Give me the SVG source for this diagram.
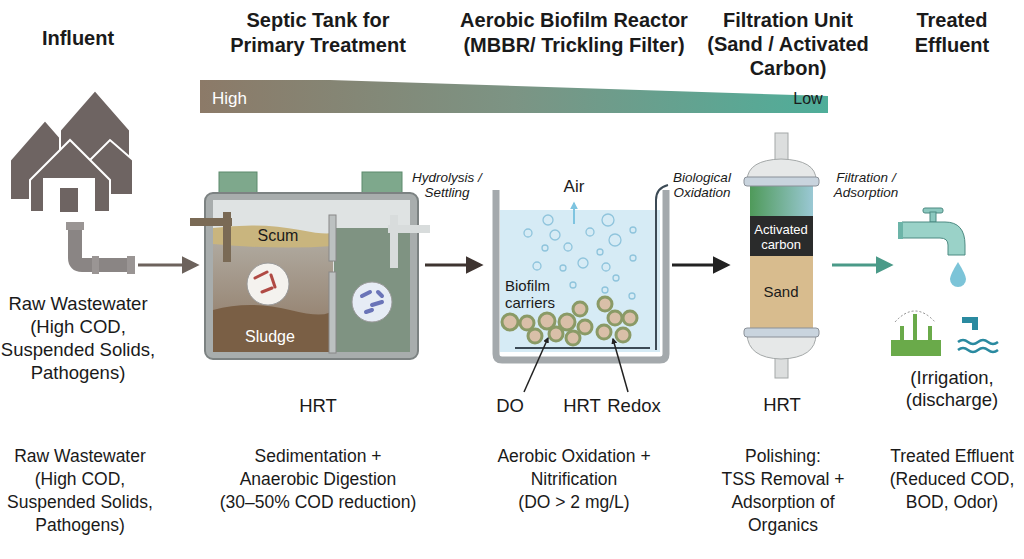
<svg xmlns="http://www.w3.org/2000/svg" width="1024" height="559" viewBox="0 0 1024 559">
<defs>
<style>
text{font-family:"Liberation Sans",Arial,sans-serif;fill:#1a1a1a;text-anchor:middle}
.h{font-size:20px;font-weight:bold}
.b{font-size:17.5px}
.l{font-size:18.5px}
.i{font-size:13.5px;font-style:italic}
.bub{fill:none;stroke:#8fc4dc;stroke-width:1.3}
.car{fill:#d9bfa8;stroke:#8a9a66;stroke-width:3}
</style>
<linearGradient id="wedge" x1="0" x2="1" y1="0" y2="0"><stop offset="0" stop-color="#8c7a68"/><stop offset="0.5" stop-color="#7c9484"/><stop offset="1" stop-color="#4fae9a"/></linearGradient>
<linearGradient id="liq" x1="0" x2="0" y1="0" y2="1"><stop offset="0" stop-color="#b0aaa0"/><stop offset="1" stop-color="#8c7560"/></linearGradient>
<linearGradient id="grn" x1="0" x2="1"><stop offset="0" stop-color="#4f9a5a"/><stop offset="1" stop-color="#9ac8d4"/></linearGradient>
<marker id="ah" viewBox="0 0 10 10" refX="8" refY="5" markerWidth="4" markerHeight="4" orient="auto"><path d="M0,0L10,5L0,10z" fill="context-stroke"/></marker>
<marker id="ab" viewBox="0 0 10 10" refX="8" refY="5" markerWidth="6" markerHeight="6" orient="auto"><path d="M0,0L10,5L0,10z" fill="context-stroke"/></marker>
</defs>
<rect width="1024" height="559" fill="#fff"/>
<g id="headers">
<text class="h" x="78" y="45">Influent</text>
<text class="h" x="318" y="27">Septic Tank for</text><text class="h" x="318" y="52">Primary Treatment</text>
<text class="h" x="574" y="27">Aerobic Biofilm Reactor</text><text class="h" x="574" y="52">(MBBR/ Trickling Filter)</text>
<text class="h" x="788" y="27">Filtration Unit</text><text class="h" x="788" y="51">(Sand / Activated</text><text class="h" x="788" y="75">Carbon)</text>
<text class="h" x="952" y="27">Treated</text><text class="h" x="952" y="52">Effluent</text>
</g>
<g id="gradient">
<polygon points="200,80 330,80 828,96 828,113 200,113" fill="url(#wedge)"/>
<text x="212" y="104" style="font-size:17px;fill:#fff;text-anchor:start">High</text>
<text x="808" y="104" style="font-size:16px">Low</text>
</g>
<g id="influent">
<g fill="#6e6462" stroke="#fff" stroke-width="2">
<path d="M10,160 L45,120 L80,160 V200 H10z"/>
<path d="M60,130 L95,90 L130,130 V180 H60z"/>
<path d="M90,160 L110,140 L133,160 V195 H90z"/>
<path d="M30,180 L70,140 L110,180 V212 H30z"/>
</g>
<rect x="43" y="178" width="52" height="34" fill="#fff"/>
<rect x="60" y="188" width="18" height="24" fill="#6e6462"/>
<path d="M75,225 V258 Q75,265 82,265 H135" fill="none" stroke="#8a8584" stroke-width="14"/>
<rect x="66" y="222" width="18" height="8" fill="#9a9594"/>
<rect x="92" y="256" width="7" height="18" fill="#9a9594"/>
<rect x="127" y="256" width="8" height="18" fill="#9a9594"/>
<text class="l" x="78" y="310">Raw Wastewater</text><text class="l" x="78" y="333">(High COD,</text><text class="l" x="78" y="356">Suspended Solids,</text><text class="l" x="78" y="379">Pathogens)</text>
</g>
<g id="septic">
<rect x="219" y="172" width="38" height="22" fill="#7ea88c" stroke="#5d8a6c"/>
<rect x="362" y="172" width="40" height="22" fill="#7ea88c" stroke="#5d8a6c"/>
<rect x="205" y="193" width="213" height="166" rx="8" fill="#a8adad" stroke="#7c8282" stroke-width="2"/>
<rect x="213" y="200" width="197" height="152" fill="#dfe3e3"/>
<rect x="213" y="240" width="120" height="112" fill="url(#liq)"/>
<path d="M213,310 Q250,300 290,310 T333,308 V352 H213z" fill="#7a5f45"/>
<path d="M213,228 Q260,222 300,230 T333,228 V246 Q280,250 213,244z" fill="#c9b57e"/>
<rect x="334" y="228" width="76" height="124" fill="#7f9382"/>
<rect x="329" y="215" width="7" height="46" fill="#bcc1c1" stroke="#888"/>
<rect x="329" y="272" width="7" height="81" fill="#bcc1c1" stroke="#888"/>
<path d="M190,222 H232 M227,212 V262" fill="none" stroke="#7a6a55" stroke-width="8"/>
<path d="M388,229 H430 M394,215 V268" fill="none" stroke="#d8dcdc" stroke-width="8"/>
<circle cx="268" cy="284" r="21" fill="#f4f2ee" stroke="#999"/>
<path d="M255,278l12,-6M262,292l10,-4M271,275l4,12" stroke="#b04a44" stroke-width="3" stroke-linecap="round"/>
<circle cx="372" cy="302" r="20" fill="#e6ecf5" stroke="#999"/>
<path d="M362,296l8,-4M372,305l10,-3M366,312l6,-2M378,292l4,4" stroke="#6a74b8" stroke-width="4" stroke-linecap="round"/>
<text x="278" y="241" style="font-size:16px">Scum</text>
<text x="270" y="342" style="font-size:16px;fill:#fff">Sludge</text>
<text class="l" x="318" y="412">HRT</text>
<text class="i" x="447" y="182">Hydrolysis /</text><text class="i" x="447" y="197">Settling</text>
</g>
<g id="reactor">
<rect x="500" y="210" width="160" height="142" fill="#d6ebf5"/>
<path d="M496,190 V354 Q496,360 502,360 H660 Q666,360 666,354 V190" fill="none" stroke="#a4a9ac" stroke-width="7"/>
<path d="M656,350 V200 Q656,188 668,185" fill="none" stroke="#3c4a55" stroke-width="2"/>
<text x="574" y="192" style="font-size:17px">Air</text>
<line x1="574" y1="224" x2="574" y2="203" stroke="#7ec4e0" stroke-width="2" marker-end="url(#ah)"/>
<g class="bub">
<circle cx="548" cy="220" r="5"/><circle cx="608" cy="220" r="6"/><circle cx="528" cy="233" r="4"/><circle cx="555" cy="235" r="5"/><circle cx="590" cy="232" r="4"/><circle cx="615" cy="240" r="6"/><circle cx="568" cy="247" r="4"/><circle cx="545" cy="248" r="3"/><circle cx="600" cy="252" r="3"/><circle cx="633" cy="230" r="3"/><circle cx="633" cy="258" r="3"/><circle cx="537" cy="266" r="4"/><circle cx="563" cy="268" r="3"/><circle cx="583" cy="263" r="5"/><circle cx="606" cy="267" r="4"/><circle cx="616" cy="278" r="3"/><circle cx="573" cy="285" r="3"/><circle cx="605" cy="290" r="3"/><circle cx="632" cy="296" r="3"/>
</g>
<text x="505" y="291" style="font-size:15px;text-anchor:start">Biofilm</text>
<text x="505" y="308" style="font-size:15px;text-anchor:start">carriers</text>
<g class="car">
<circle cx="510" cy="322" r="8"/><circle cx="527" cy="323" r="7"/><circle cx="547" cy="321" r="8"/><circle cx="567" cy="322" r="8"/><circle cx="580" cy="309" r="7"/><circle cx="585" cy="327" r="7"/><circle cx="605" cy="304" r="7"/><circle cx="615" cy="318" r="7"/><circle cx="630" cy="318" r="7"/><circle cx="535" cy="336" r="7"/><circle cx="556" cy="334" r="7"/><circle cx="573" cy="338" r="7"/><circle cx="604" cy="332" r="7"/><circle cx="623" cy="335" r="7"/>
</g>
<line x1="515" y1="348" x2="650" y2="348" stroke="#3c4a55" stroke-width="2"/>
<line x1="524" y1="392" x2="548" y2="338" stroke="#222" stroke-width="1.5" marker-end="url(#ah)"/>
<line x1="628" y1="392" x2="613" y2="339" stroke="#222" stroke-width="1.5" marker-end="url(#ah)"/>
<text class="l" x="510" y="412">DO</text><text class="l" x="582" y="412">HRT</text><text class="l" x="634" y="412">Redox</text>
<text class="i" x="702" y="182">Biological</text><text class="i" x="702" y="197">Oxidation</text>
</g>
<g id="filter">
<rect x="775" y="133" width="13" height="245" fill="#dcdede" stroke="#a4a8a8"/>
<path d="M747,180 Q748,160 781,159 Q816,160 816,180z" fill="#e6e8e8" stroke="#a4a8a8"/>
<path d="M747,334 Q748,358 781,359 Q816,358 816,334z" fill="#e6e8e8" stroke="#a4a8a8"/>
<rect x="750" y="184" width="63" height="32" fill="url(#grn)"/>
<rect x="750" y="216" width="63" height="40" fill="#2a2b2b"/>
<rect x="750" y="256" width="63" height="73" fill="#d8bc8e"/>
<rect x="744" y="177" width="75" height="9" rx="3" fill="#c9d4de" stroke="#8a9098"/>
<rect x="744" y="328" width="75" height="9" rx="3" fill="#c9d4de" stroke="#8a9098"/>
<text x="781" y="234" style="font-size:13px;fill:#fff">Activated</text>
<text x="781" y="249" style="font-size:13px;fill:#fff">carbon</text>
<text x="781" y="297" style="font-size:15px">Sand</text>
<text class="l" x="782" y="411">HRT</text>
<text class="i" x="866" y="182">Filtration /</text><text class="i" x="866" y="197">Adsorption</text>
</g>
<g id="effluent">
<rect x="923" y="208" width="20" height="5" rx="2" fill="#8cc8bf" stroke="#4d8a82"/>
<rect x="930" y="212" width="6" height="10" fill="#8cc8bf" stroke="#4d8a82"/>
<path d="M902,222 H945 Q965,222 965,245 V255 H948 V245 Q948,238 940,238 H902z" fill="#9ad2c8" stroke="#4d8a82"/>
<rect x="898" y="222" width="5" height="17" fill="#6cb4a8"/>
<path d="M958,262 Q950,275 950,279 A8,8 0 0 0 966,279 Q966,275 958,262z" fill="#7cc4d8"/>
<rect x="891" y="340" width="50" height="16" fill="#6aaa4a"/>
<path d="M902,340 V326 M915,340 V314 M930,340 V326" stroke="#6aaa4a" stroke-width="4"/>
<path d="M895,322 Q915,300 935,322" fill="none" stroke="#888" stroke-dasharray="2,2"/>
<path d="M962,317 H978 V330 H972 V323 H962z" fill="#2a8aa0"/>
<path d="M958,342 q5,-4 10,0 t10,0 t10,0 t10,0 M958,350 q5,-4 10,0 t10,0 t10,0 t10,0" fill="none" stroke="#2a8aa0" stroke-width="2.5"/>
<text class="l" x="952" y="384">(Irrigation,</text><text class="l" x="952" y="406">(discharge)</text>
</g>
<g id="connectors" fill="none" stroke-width="3">
<line x1="138" y1="265" x2="196" y2="265" stroke="#6c625c" marker-end="url(#ab)"/>
<line x1="425" y1="265" x2="480" y2="265" stroke="#3e3430" marker-end="url(#ab)"/>
<line x1="672" y1="265" x2="727" y2="265" stroke="#222" marker-end="url(#ab)"/>
<line x1="832" y1="265" x2="890" y2="265" stroke="#4a9a88" marker-end="url(#ab)"/>
</g>
<g id="descriptions">
<text class="b" x="80" y="462">Raw Wastewater</text><text class="b" x="80" y="485">(High COD,</text><text class="b" x="80" y="508">Suspended Solids,</text><text class="b" x="80" y="531">Pathogens)</text>
<text class="b" x="318" y="462">Sedimentation +</text><text class="b" x="318" y="485">Anaerobic Digestion</text><text class="b" x="318" y="508">(30–50% COD reduction)</text>
<text class="b" x="574" y="462">Aerobic Oxidation +</text><text class="b" x="574" y="485">Nitrification</text><text class="b" x="574" y="508">(DO &gt; 2 mg/L)</text>
<text class="b" x="783" y="462">Polishing:</text><text class="b" x="783" y="485">TSS Removal +</text><text class="b" x="783" y="508">Adsorption of</text><text class="b" x="783" y="531">Organics</text>
<text class="b" x="952" y="462">Treated Effluent</text><text class="b" x="952" y="485">(Reduced COD,</text><text class="b" x="952" y="508">BOD, Odor)</text>
</g>
</svg>
